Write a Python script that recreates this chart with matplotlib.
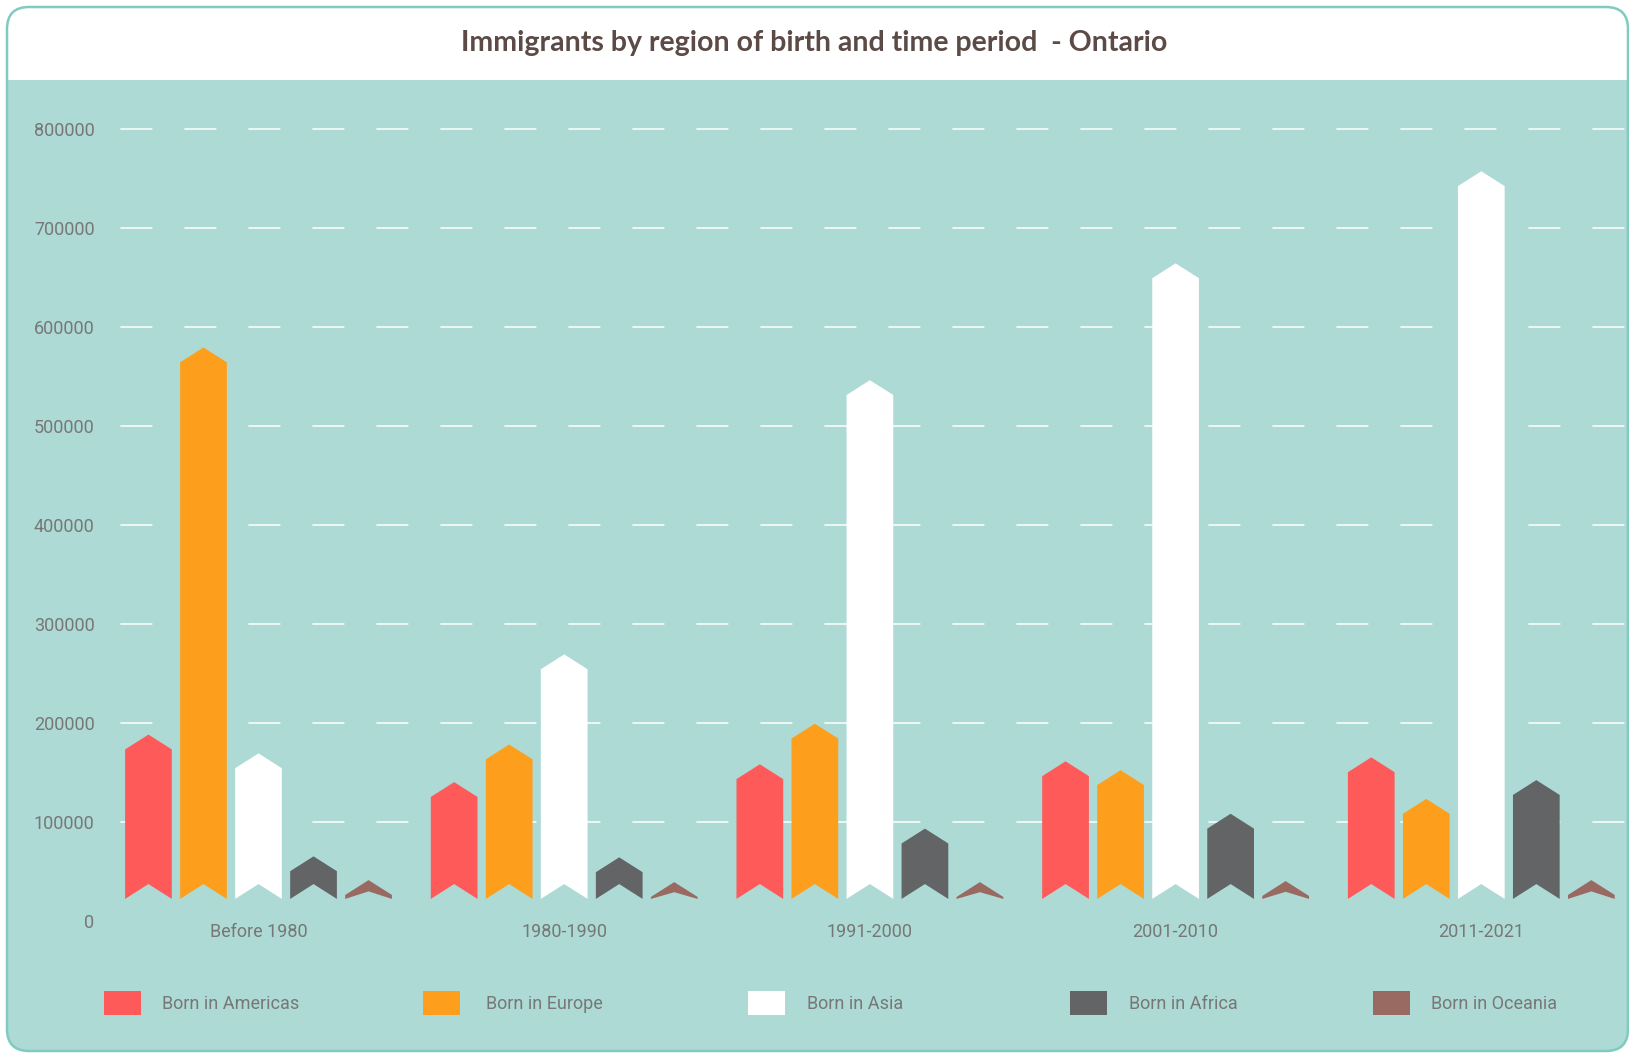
import matplotlib.pyplot as plt
from matplotlib.patches import Polygon, FancyBboxPatch, Rectangle

# data (tip of each chevron)
periods = ['Before 1980', '1980-1990', '1991-2000', '2001-2010', '2011-2021']
regions = ['Born in Americas', 'Born in Europe', 'Born in Asia', 'Born in Africa', 'Born in Oceania']
americas = [188000, 140000, 158000, 161000, 165000]
europe = [579000, 178000, 199000, 152000, 123000]
asia = [169000, 269000, 546000, 664000, 757000]
africa = [65000, 64000, 93000, 108000, 142000]
oceania = [41000, 39000, 39000, 40000, 41000]
yticks = [0, 100000, 200000, 300000, 400000, 500000, 600000, 700000, 800000]

series = [americas, europe, asia, africa, oceania]
colors = ['#ff5a5a', '#fd9f1c', '#ffffff', '#636466', '#986a62']
teal = '#addad4'
label_col = '#777777'

plt.rcParams['lines.scale_dashes'] = False
plt.rcParams['font.family'] = ['Roboto', 'DejaVu Sans']

W, H = 1629, 1053
fig = plt.figure(figsize=(W / 100, H / 100), dpi=100)

# card background, in pixel units
bg = fig.add_axes([0, 0, 1, 1], zorder=0)
bg.set_xlim(0, W)
bg.set_ylim(H, 0)
bg.axis('off')
card = FancyBboxPatch((7, 7), 1621, 1044, boxstyle='round,pad=0,rounding_size=22',
                      facecolor=teal, edgecolor='none')
bg.add_patch(card)
band = Rectangle((0, 0), W, 80, facecolor='white', edgecolor='none')
bg.add_patch(band)
band.set_clip_path(card)
bg.add_patch(FancyBboxPatch((7, 7), 1621, 1044, boxstyle='round,pad=0,rounding_size=22',
                            facecolor='none', edgecolor='#7fcbbf', lw=1.8))
bg.text(814, 43, 'Immigrants by region of birth and time period  - Ontario',
        ha='center', va='center', fontsize=20.5, fontweight='bold', color='#5b4a45',
        family=['Lato', 'DejaVu Sans'])

# legend
leg_sq = [104, 423, 748, 1070, 1373]
leg_tx = [162, 486, 807, 1129, 1431]
for i, name in enumerate(regions):
    bg.add_patch(Rectangle((leg_sq[i], 991), 37, 24, facecolor=colors[i], edgecolor='none'))
    bg.text(leg_tx[i], 1004, name, ha='left', va='center', fontsize=13, color=label_col)

# main plot
ax = fig.add_axes([105.65 / W, 132.3 / H, 1528.5 / W, 841.5 / H], zorder=1)
ax.patch.set_alpha(0)
ax.set_xlim(-0.5, 4.5)
ax.set_ylim(0, 850000)
for s in ax.spines.values():
    s.set_visible(False)

for t in yticks[1:]:
    ax.axhline(t, color='white', lw=1.1, linestyle=(35.75, (23.04, 23.04)), zorder=1)

pitch = 0.18
hw = 0.1528 / 2
base = 22000
arrow = 15000
for si, vals in enumerate(series):
    for gi, v in enumerate(vals):
        xc = gi + (si - 2) * pitch
        notch = min(arrow, 0.4 * (v - base))
        pts = [(xc - hw, base), (xc - hw, v - arrow), (xc, v), (xc + hw, v - arrow),
               (xc + hw, base), (xc, base + notch)]
        ax.add_patch(Polygon(pts, closed=True, facecolor=colors[si], edgecolor='none', zorder=2))

ax.set_yticks(yticks)
ax.set_yticklabels([str(t) for t in yticks])
ax.set_xticks(range(len(periods)))
ax.set_xticklabels(periods)
ax.tick_params(axis='y', length=0, pad=8, labelsize=13, labelcolor=label_col)
ax.tick_params(axis='x', length=0, pad=2, labelsize=13, labelcolor=label_col)

fig.savefig('out.png', dpi=100)
